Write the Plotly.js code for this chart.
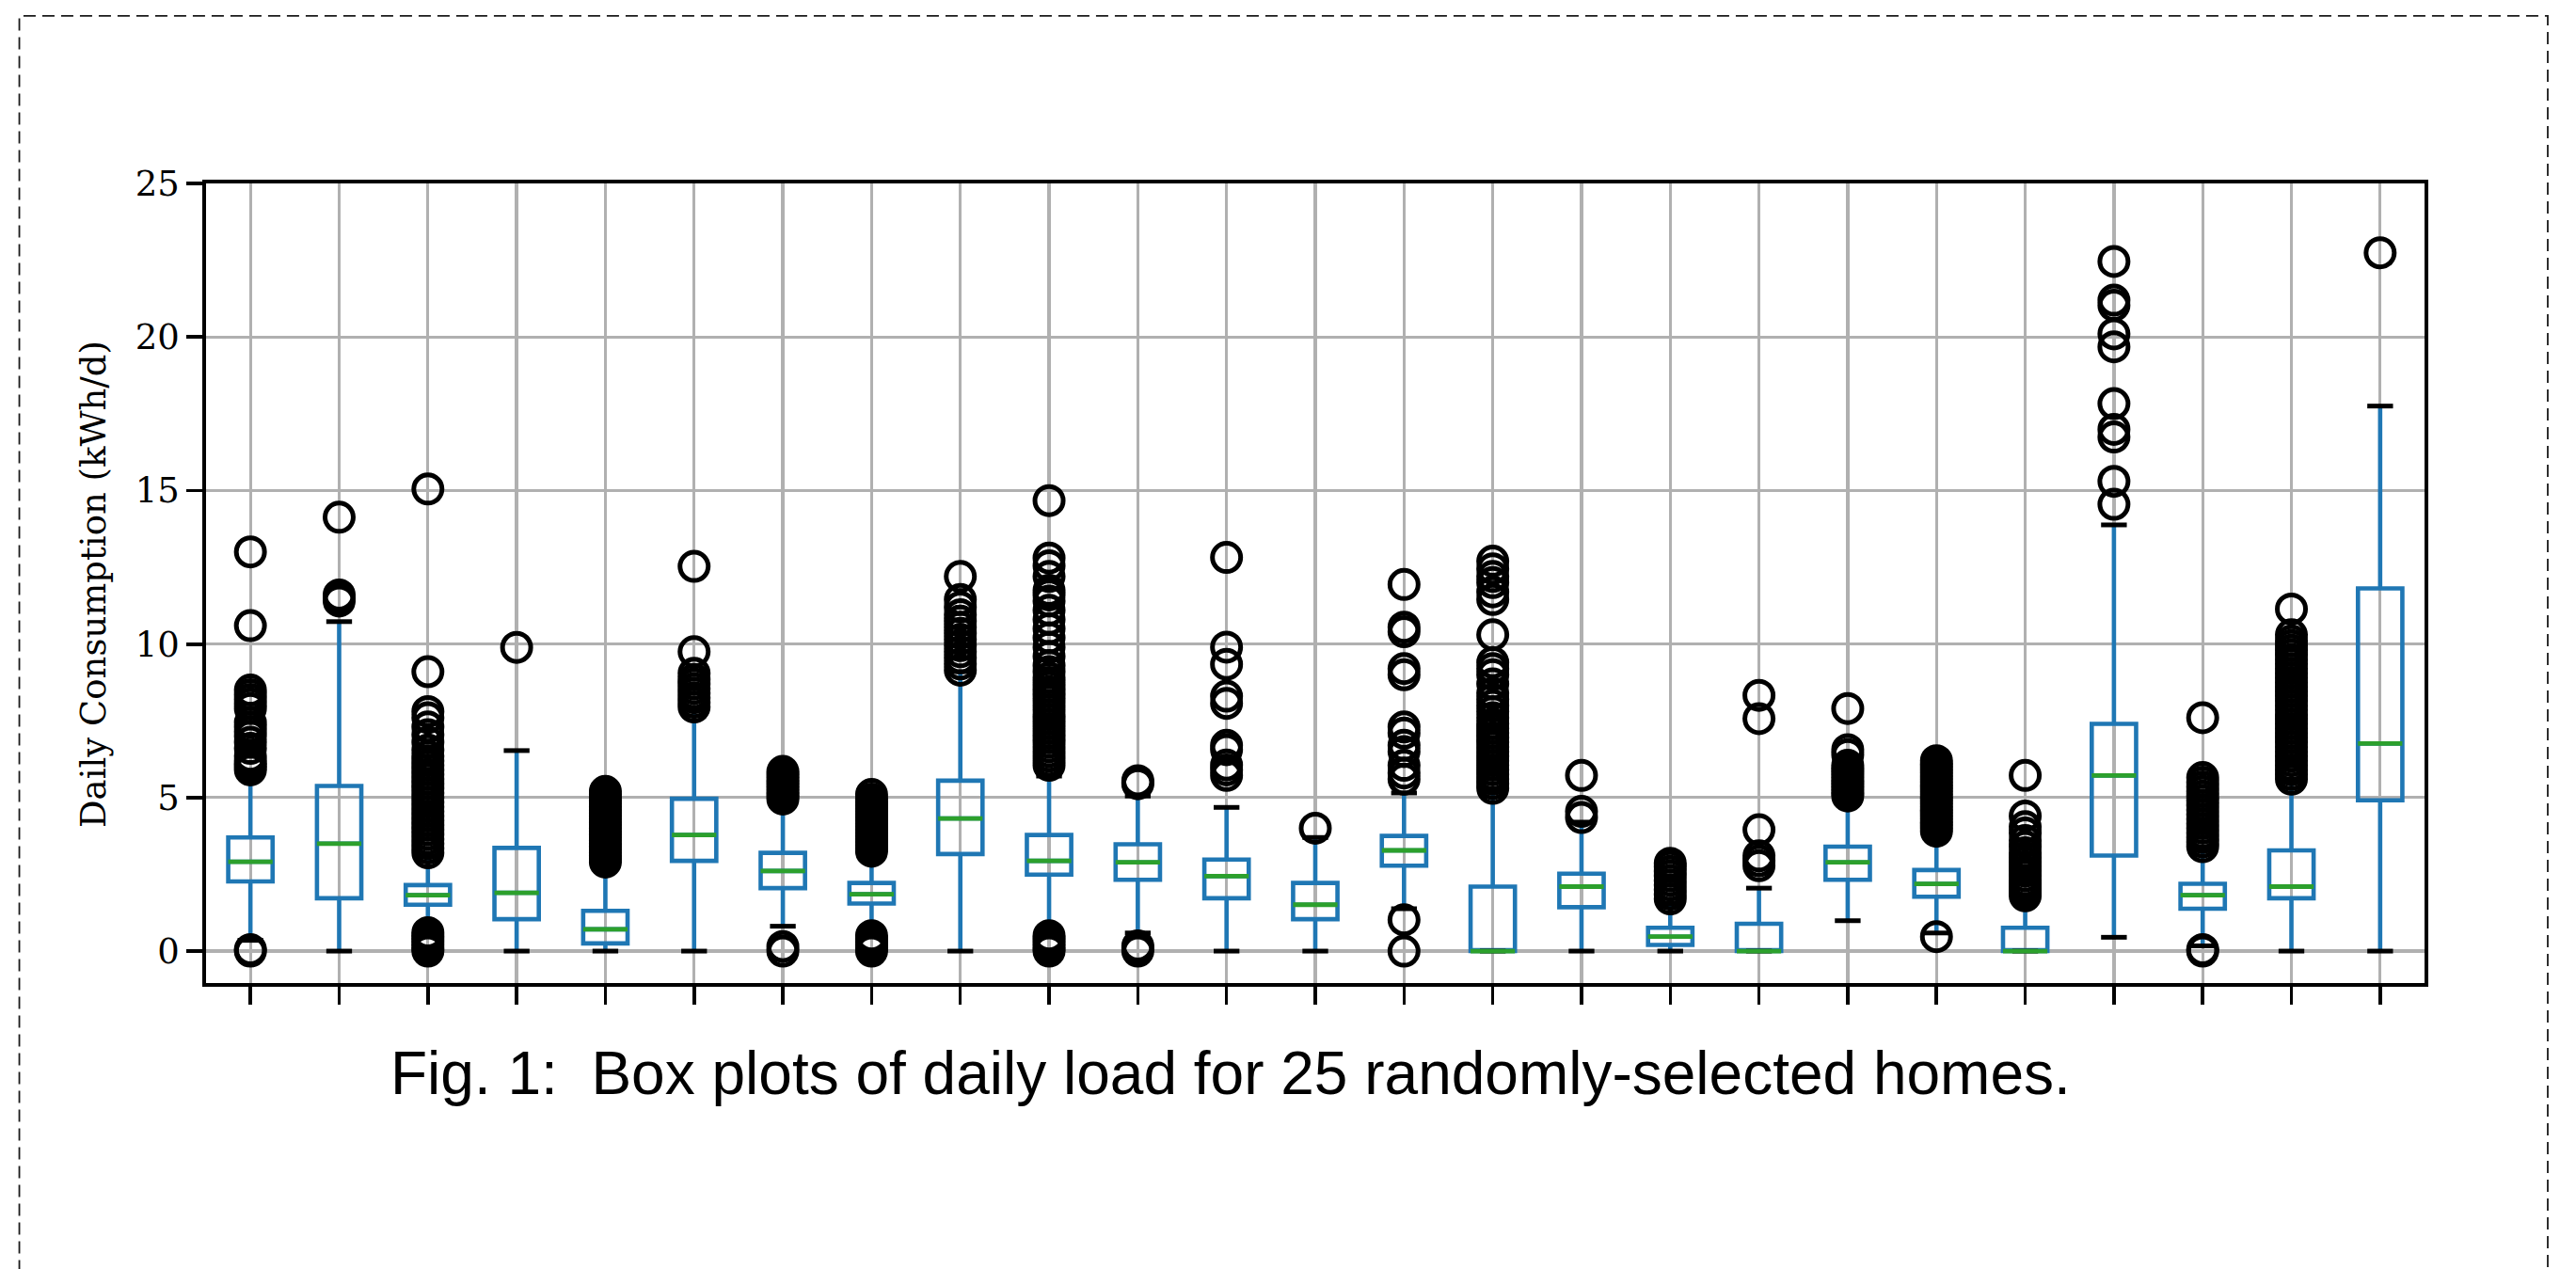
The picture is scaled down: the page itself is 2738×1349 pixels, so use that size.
<!DOCTYPE html>
<html>
<head>
<meta charset="utf-8">
<script src="https://cdn.plot.ly/plotly-3.0.1.min.js"></script>
<style>
  html, body { margin: 0; padding: 0; background: #ffffff; }
  #chart { width: 2738px; height: 1349px; }
</style>
</head>
<body>
<div id="chart"></div>
<script>
// ---- Data ----
const homes = [1,2,3,4,5,6,7,8,9,10,11,12,13,14,15,16,17,18,19,20,21,22,23,24,25];

const q1     = [2.27,1.72,1.51,1.04,0.25,2.94,2.05,1.55,3.16,2.49,2.32,1.72,1.04,2.78,0.00,1.43,0.20,0.00,2.32,1.77,0.00,3.11,1.38,1.72,4.91];
const medians= [2.91,3.50,1.82,1.90,0.71,3.78,2.61,1.85,4.32,2.94,2.89,2.44,1.51,3.28,0.00,2.10,0.47,0.00,2.89,2.19,0.00,5.72,1.82,2.10,6.76];
const q3     = [3.70,5.38,2.15,3.36,1.31,4.96,3.20,2.22,5.55,3.78,3.48,2.98,2.22,3.75,2.10,2.52,0.76,0.89,3.40,2.64,0.76,7.40,2.19,3.28,11.81];
const whiskerLow  = [0.35,0.00,0.60,0.00,0.00,0.00,0.81,0.60,0.00,0.60,0.59,0.00,0.00,1.38,0.00,0.00,0.00,0.00,0.99,0.59,0.00,0.45,0.17,0.00,0.00];
const whiskerHigh = [5.80,10.73,3.10,6.53,2.85,7.90,4.90,3.20,9.10,5.70,5.05,4.68,3.70,5.15,5.20,4.20,1.55,2.05,5.00,3.85,1.70,13.88,3.35,5.55,17.75];

const fliers = [
  [0,0.05,5.9,6.0,6.1,6.2,6.35,6.6,6.8,7.0,7.15,7.3,7.45,7.9,8.05,8.2,8.35,8.5,10.6,13.0],
  [11.4,11.5,11.6,14.13],
  [0,0.1,0.2,0.3,0.4,0.5,0.6,3.2,3.35,3.5,3.65,3.8,3.95,4.1,4.25,4.4,4.55,4.7,4.85,5.0,5.15,5.3,5.45,5.6,5.75,5.9,6.05,6.2,6.35,6.55,6.8,7.05,7.3,7.6,7.8,9.1,15.05],
  [9.89],
  [2.9,3.0,3.1,3.2,3.3,3.4,3.5,3.6,3.7,3.8,3.9,4.0,4.1,4.2,4.3,4.4,4.5,4.6,4.7,4.8,4.9,5.0,5.1,5.2],
  [7.95,8.1,8.25,8.4,8.55,8.7,8.85,9.05,9.75,12.53],
  [0,0.15,4.95,5.05,5.15,5.25,5.35,5.45,5.55,5.65,5.75,5.85],
  [0,0.1,0.2,0.3,0.4,0.5,3.25,3.35,3.45,3.55,3.65,3.75,3.85,3.95,4.05,4.15,4.25,4.35,4.45,4.55,4.65,4.75,4.85,4.95,5.1],
  [9.15,9.35,9.55,9.75,9.95,10.15,10.35,10.55,10.75,10.95,11.2,11.45,12.2],
  [0,0.1,0.2,0.3,0.4,0.5,6.05,6.2,6.35,6.5,6.65,6.8,6.95,7.1,7.25,7.4,7.55,7.7,7.85,8.0,8.15,8.3,8.45,8.6,8.75,8.9,9.1,9.3,9.6,9.9,10.2,10.5,10.8,11.1,11.4,11.6,11.75,12.2,12.55,12.8,14.67],
  [0,0.1,0.17,5.45,5.5,5.55],
  [5.72,5.9,6.06,6.56,6.7,8.07,8.3,9.34,9.9,12.82],
  [4.0],
  [0,1.02,5.6,5.8,6.05,6.5,6.7,7.1,7.3,9.0,9.2,10.4,10.55,11.94],
  [5.3,5.45,5.6,5.75,5.9,6.05,6.2,6.35,6.5,6.65,6.8,6.95,7.1,7.25,7.4,7.6,7.8,8.0,8.2,8.4,8.7,9.0,9.2,9.4,10.3,11.45,11.7,12.0,12.2,12.45,12.7],
  [4.35,4.55,5.72],
  [1.7,1.85,2.0,2.15,2.3,2.45,2.6,2.75,2.86],
  [2.78,2.94,3.1,3.95,7.57,8.33],
  [5.05,5.15,5.25,5.35,5.45,5.55,5.65,5.75,5.85,5.95,6.05,6.4,6.56,7.9],
  [0.47,3.9,4.0,4.1,4.2,4.3,4.4,4.5,4.6,4.7,4.8,4.9,5.0,5.1,5.2,5.3,5.4,5.5,5.6,5.7,5.8,5.9,6.0,6.1,6.2],
  [1.8,1.9,2.0,2.1,2.2,2.3,2.45,2.6,2.75,2.9,3.05,3.2,3.4,3.6,3.85,4.05,4.4,5.72],
  [14.55,15.3,16.74,16.99,17.83,19.68,20.1,21.03,21.2,22.46],
  [0,0.05,3.4,3.55,3.7,3.85,4.0,4.15,4.3,4.45,4.6,4.75,4.9,5.05,5.2,5.35,5.5,5.65,7.6],
  [5.6,5.75,5.9,6.05,6.2,6.35,6.5,6.65,6.8,6.95,7.1,7.25,7.4,7.55,7.7,7.85,8.0,8.15,8.3,8.45,8.6,8.75,8.9,9.05,9.2,9.35,9.5,9.65,9.8,9.95,10.1,10.3,11.14],
  [22.74]
];

const yTicks = [0,5,10,15,20,25];
const yTitle = "Daily Consumption (kWh/d)";
const caption = "Fig. 1:\u00a0 Box plots of daily load for 25 randomly-selected homes.";

// ---- Styles ----
const BLUE = "#1f77b4", GREEN = "#2ca02c", GRID = "#b0b0b0";
const BOXW = 0.5, CAPHALF = 0.145;

// helper: horizontal segments centered at x positions
function segments(xs, ys, half) {
  const X = [], Y = [];
  xs.forEach((x, i) => { X.push(x - half, x + half, null); Y.push(ys[i], ys[i], null); });
  return {x: X, y: Y};
}

const boxTrace = {
  type: "box",
  x: homes,
  q1: q1, median: medians, q3: q3,
  lowerfence: whiskerLow, upperfence: whiskerHigh,
  boxpoints: false,
  width: BOXW,
  whiskerwidth: 0,
  fillcolor: "rgba(0,0,0,0)",
  line: {color: BLUE, width: 4.6},
  hoverinfo: "skip",
  showlegend: false
};

const capsLow = segments(homes, whiskerLow, CAPHALF);
const capsHigh = segments(homes, whiskerHigh, CAPHALF);
const capTrace = {
  type: "scatter", mode: "lines",
  x: capsLow.x.concat(capsHigh.x), y: capsLow.y.concat(capsHigh.y),
  line: {color: "#000000", width: 5},
  connectgaps: false, hoverinfo: "skip", showlegend: false
};

const med = segments(homes, medians, BOXW / 2);
const medTrace = {
  type: "scatter", mode: "lines",
  x: med.x, y: med.y,
  line: {color: GREEN, width: 4.8},
  connectgaps: false, hoverinfo: "skip", showlegend: false
};

const fx = [], fy = [];
fliers.forEach((arr, i) => arr.forEach(v => { fx.push(homes[i]); fy.push(v); }));
const flierTrace = {
  type: "scatter", mode: "markers",
  x: fx, y: fy,
  marker: {symbol: "circle-open", size: 30, color: "#000000", line: {width: 5, color: "#000000"}},
  hoverinfo: "skip", showlegend: false, cliponaxis: false
};

const W = 2738, H = 1349;
const L = 218.5, R = 2577, T = 195.4, B = 1045.5;
const pw = R - L, ph = B - T;
const px2x = p => (p - L) / pw;
const px2y = p => (B - p) / ph;

const layout = {
  width: W, height: H,
  margin: {l: L, r: W - R, t: T, b: H - B, pad: 0},
  paper_bgcolor: "#ffffff", plot_bgcolor: "#ffffff",
  showlegend: false,
  xaxis: {
    range: [0.5, 25.5],
    tickmode: "array", tickvals: homes, showticklabels: false,
    ticks: "outside", ticklen: 19, tickwidth: 3.5, tickcolor: "#000",
    showgrid: true, gridcolor: GRID, gridwidth: 3.3,
    showline: true, linecolor: "#000", linewidth: 3.8, mirror: true,
    zeroline: false, fixedrange: true
  },
  yaxis: {
    range: [-1.04, 25],
    tickmode: "array", tickvals: yTicks, ticktext: yTicks.map(String),
    ticks: "outside", ticklen: 17, tickwidth: 3.8, tickcolor: "#000",
    tickfont: {family: "DejaVu Serif", size: 37, color: "#000"},
    showgrid: true, gridcolor: GRID, gridwidth: 3.3,
    showline: true, linecolor: "#000", linewidth: 3.8, mirror: true,
    zeroline: false, fixedrange: true
  },
  annotations: [
    {
      xref: "paper", yref: "paper",
      x: px2x(99), y: px2y(622),
      xanchor: "center", yanchor: "middle",
      text: yTitle, textangle: -90, showarrow: false,
      font: {family: "DejaVu Serif", size: 37, color: "#000"}
    },
    {
      xref: "paper", yref: "paper",
      x: px2x(1307.5), y: px2y(1142),
      xanchor: "center", yanchor: "middle",
      text: caption, showarrow: false,
      font: {family: "Liberation Sans, Arial, sans-serif", size: 64, color: "#000"}
    }
  ],
  shapes: [
    {
      type: "rect", xref: "paper", yref: "paper",
      x0: px2x(20), x1: px2x(2708), y0: px2y(1400), y1: px2y(17.3),
      line: {color: "#1a1a1a", width: 1.8, dash: "13px,7px"},
      fillcolor: "rgba(0,0,0,0)", layer: "above"
    }
  ]
};

Plotly.newPlot("chart", [boxTrace, capTrace, medTrace, flierTrace], layout, {displayModeBar: false, staticPlot: true});
</script>
</body>
</html>
